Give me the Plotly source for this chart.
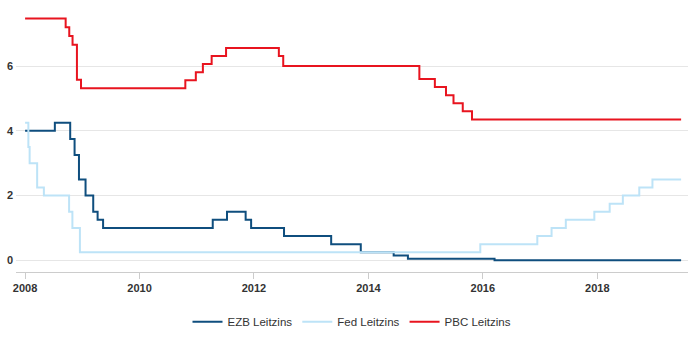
import plotly.graph_objects as go

# ---- data ----
ezb_dates = ["2008-01-01", "2008-07-09", "2008-10-15", "2008-11-12", "2008-12-10",
             "2009-01-21", "2009-03-11", "2009-04-08", "2009-05-13", "2011-04-13",
             "2011-07-13", "2011-11-09", "2011-12-14", "2012-07-11", "2013-05-08",
             "2013-11-13", "2014-06-11", "2014-09-10", "2016-03-16", "2019-06-20"]
ezb_values = [4.00, 4.25, 3.75, 3.25, 2.50, 2.00, 1.50, 1.25, 1.00, 1.25,
              1.50, 1.25, 1.00, 0.75, 0.50, 0.25, 0.15, 0.05, 0.00, 0.00]

fed_dates = ["2008-01-01", "2008-01-22", "2008-01-30", "2008-03-18", "2008-04-30",
             "2008-10-08", "2008-10-29", "2008-12-16", "2015-12-16", "2016-12-14",
             "2017-03-15", "2017-06-14", "2017-12-13", "2018-03-21", "2018-06-13",
             "2018-09-26", "2018-12-19", "2019-06-20"]
fed_values = [4.25, 3.50, 3.00, 2.25, 2.00, 1.50, 1.00, 0.25, 0.50, 0.75,
              1.00, 1.25, 1.50, 1.75, 2.00, 2.25, 2.50, 2.50]

pbc_dates = ["2008-01-01", "2008-09-16", "2008-10-09", "2008-10-30", "2008-11-27",
             "2008-12-23", "2010-10-20", "2010-12-26", "2011-02-09", "2011-04-06",
             "2011-07-07", "2012-06-08", "2012-07-06", "2014-11-22", "2015-03-01",
             "2015-05-11", "2015-06-28", "2015-08-26", "2015-10-24", "2019-06-20"]
pbc_values = [7.47, 7.20, 6.93, 6.66, 5.58, 5.31, 5.56, 5.81, 6.06, 6.31,
              6.56, 6.31, 6.00, 5.60, 5.35, 5.10, 4.85, 4.60, 4.35, 4.35]

series_names = ["EZB Leitzins", "Fed Leitzins", "PBC Leitzins"]
year_ticks = ["2008-01-01", "2010-01-01", "2012-01-01", "2014-01-01", "2016-01-01", "2018-01-01"]
year_labels = ["2008", "2010", "2012", "2014", "2016", "2018"]
y_ticks = [0, 2, 4, 6]

fig = go.Figure()
fig.add_trace(go.Scatter(x=ezb_dates, y=ezb_values, name=series_names[0], mode="lines",
                         line=dict(color="#0f4e7e", width=2, shape="hv")))
fig.add_trace(go.Scatter(x=fed_dates, y=fed_values, name=series_names[1], mode="lines",
                         line=dict(color="#bde3f7", width=2, shape="hv")))
fig.add_trace(go.Scatter(x=pbc_dates, y=pbc_values, name=series_names[2], mode="lines",
                         line=dict(color="#e8141f", width=2, shape="hv")))

tickfont = dict(family="Liberation Sans", size=11, color="#333333", weight="bold")

fig.update_layout(
    width=696, height=345,
    margin=dict(l=16, r=8, t=10, b=73),
    paper_bgcolor="white", plot_bgcolor="white",
    showlegend=True,
    legend=dict(orientation="h", x=0.5, xanchor="center", y=-0.19, yanchor="middle",
                font=dict(family="Liberation Sans", size=11.5, color="#333333"),
                itemwidth=30, tracegroupgap=0),
    xaxis=dict(range=["2007-11-04", "2019-08-03"], tickvals=year_ticks, ticktext=year_labels,
               showgrid=False, showline=True, linecolor="#cccccc", linewidth=1,
               ticks="outside", ticklen=6, tickcolor="#cccccc", tickfont=tickfont,
               zeroline=False),
    yaxis=dict(range=[-0.36, 7.73], tickvals=y_ticks, showgrid=True, gridcolor="#e6e6e6",
               gridwidth=1, zeroline=False, showline=False, ticks="", tickfont=tickfont,
               ticklabelstandoff=2),
)

fig.write_html("out.html")
